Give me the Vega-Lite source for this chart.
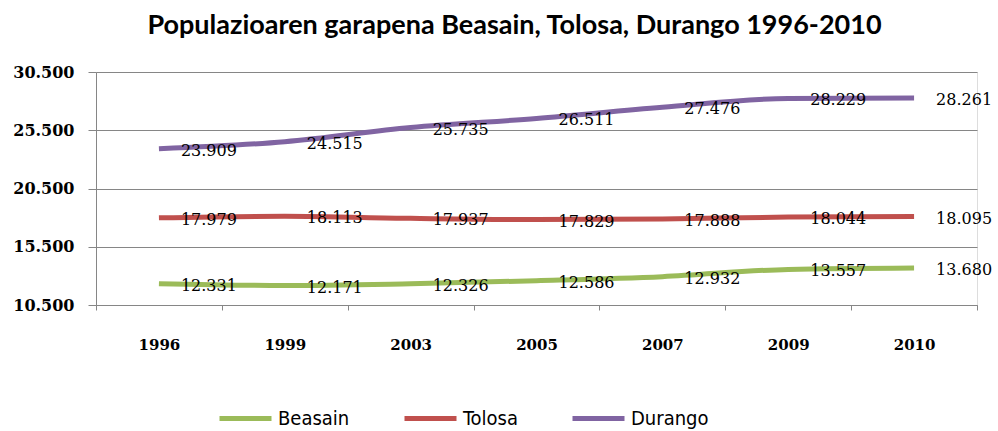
{
  "$schema": "https://vega.github.io/schema/vega-lite/v6.json",
  "width": 881,
  "height": 233,
  "autosize": "none",
  "padding": {"left": 96, "top": 72, "right": 21, "bottom": 126},
  "background": "white",
  "config": {
    "locale": {
      "number": {"decimal": ",", "thousands": ".", "grouping": [3], "currency": ["", " €"]}
    }
  },
  "title": {
    "text": "Populazioaren garapena Beasain, Tolosa, Durango 1996-2010",
    "font": "Lato",
    "fontSize": 27,
    "fontWeight": "bold",
    "color": "#000000",
    "anchor": "middle",
    "dx": -22,
    "offset": 24
  },
  "data": {
    "values": [
      {"year": "1996", "city": "Beasain", "value": 12331},
      {"year": "1999", "city": "Beasain", "value": 12171},
      {"year": "2003", "city": "Beasain", "value": 12326},
      {"year": "2005", "city": "Beasain", "value": 12586},
      {"year": "2007", "city": "Beasain", "value": 12932},
      {"year": "2009", "city": "Beasain", "value": 13557},
      {"year": "2010", "city": "Beasain", "value": 13680},
      {"year": "1996", "city": "Tolosa", "value": 17979},
      {"year": "1999", "city": "Tolosa", "value": 18113},
      {"year": "2003", "city": "Tolosa", "value": 17937},
      {"year": "2005", "city": "Tolosa", "value": 17829},
      {"year": "2007", "city": "Tolosa", "value": 17888},
      {"year": "2009", "city": "Tolosa", "value": 18044},
      {"year": "2010", "city": "Tolosa", "value": 18095},
      {"year": "1996", "city": "Durango", "value": 23909},
      {"year": "1999", "city": "Durango", "value": 24515},
      {"year": "2003", "city": "Durango", "value": 25735},
      {"year": "2005", "city": "Durango", "value": 26511},
      {"year": "2007", "city": "Durango", "value": 27476},
      {"year": "2009", "city": "Durango", "value": 28229},
      {"year": "2010", "city": "Durango", "value": 28261}
    ]
  },
  "encoding": {
    "x": {
      "field": "year",
      "type": "ordinal",
      "scale": {"type": "band", "paddingInner": 0, "paddingOuter": 0},
      "axis": {
        "title": null,
        "labelAngle": 0,
        "labelFont": "DejaVu Serif",
        "labelFontWeight": "bold",
        "labelFontSize": 15,
        "labelColor": "#000000",
        "labelPadding": 27,
        "tickBand": "extent",
        "tickSize": 5,
        "tickColor": "#868686",
        "domainColor": "#868686",
        "grid": false
      }
    },
    "y": {
      "field": "value",
      "type": "quantitative",
      "scale": {"domain": [10500, 30500], "nice": false, "zero": false},
      "axis": {
        "title": null,
        "values": [10500, 15500, 20500, 25500, 30500],
        "format": ",d",
        "labelFont": "DejaVu Serif",
        "labelFontWeight": "bold",
        "labelFontSize": 16,
        "labelColor": "#000000",
        "labelPadding": 14,
        "tickSize": 8,
        "tickColor": "#868686",
        "domainColor": "#868686",
        "grid": true,
        "gridColor": "#868686",
        "gridWidth": 1.2
      }
    },
    "color": {
      "field": "city",
      "type": "nominal",
      "scale": {
        "domain": ["Beasain", "Tolosa", "Durango"],
        "range": ["#9BBB59", "#C0504D", "#8064A2"]
      },
      "legend": {
        "title": null,
        "orient": "none",
        "direction": "horizontal",
        "legendX": 121,
        "legendY": 318,
        "gridAlign": "none",
        "symbolType": "stroke",
        "symbolSize": 2704,
        "symbolStrokeWidth": 5,
        "labelFont": "DejaVu Sans Condensed",
        "labelFontSize": 20,
        "labelColor": "#000000",
        "labelOffset": 4,
        "columnPadding": 44
      }
    }
  },
  "layer": [
    {
      "mark": {"type": "line", "strokeWidth": 5, "interpolate": "monotone"}
    },
    {
      "mark": {
        "type": "text",
        "align": "left",
        "baseline": "middle",
        "dx": 22,
        "dy": 2,
        "font": "DejaVu Serif",
        "fontSize": 16,
        "color": "#000000"
      },
      "encoding": {
        "text": {"field": "value", "type": "quantitative", "format": ",d"},
        "color": {"value": "#000000"}
      }
    }
  ]
}
